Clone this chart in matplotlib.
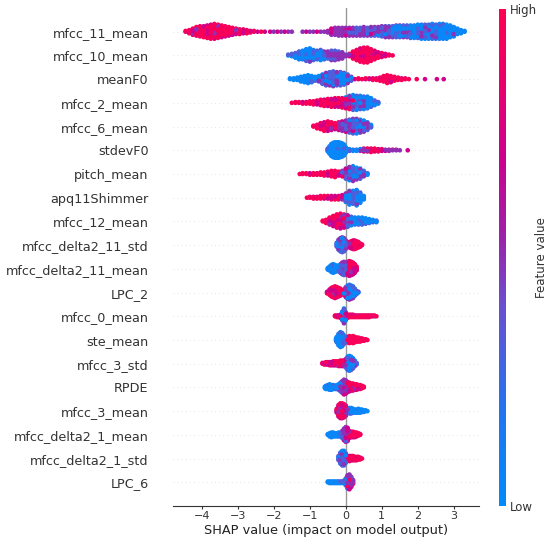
import numpy as np
import matplotlib
matplotlib.use("Agg")
import matplotlib.pyplot as plt
from matplotlib.colors import LinearSegmentedColormap

# feature names, top to bottom
features = ["mfcc_11_mean", "mfcc_10_mean", "meanF0", "mfcc_2_mean", "mfcc_6_mean",
            "stdevF0", "pitch_mean", "apq11Shimmer", "mfcc_12_mean", "mfcc_delta2_11_std",
            "mfcc_delta2_11_mean", "LPC_2", "mfcc_0_mean", "ste_mean", "mfcc_3_std",
            "RPDE", "mfcc_3_mean", "mfcc_delta2_1_mean", "mfcc_delta2_1_std", "LPC_6"]

# feature-value levels (low -> high) used for colouring points
levels = [0.05, 0.32, 0.5, 0.72, 0.95]

# each row: (SHAP value, n_low, n_violet, n_purple, n_magenta, n_high)
mfcc_11_mean = [
    (-4.45, 0, 0, 0, 1, 1), (-4.35, 0, 0, 0, 1, 4), (-4.25, 0, 0, 1, 2, 6), (-4.15, 0, 0, 1, 3, 8),
    (-4.05, 0, 0, 1, 3, 10), (-3.95, 0, 0, 1, 4, 10), (-3.85, 0, 0, 2, 4, 11), (-3.75, 0, 0, 2, 5, 12),
    (-3.65, 0, 0, 2, 5, 13), (-3.55, 0, 0, 2, 4, 12), (-3.45, 0, 0, 1, 4, 11), (-3.35, 0, 0, 1, 4, 9),
    (-3.25, 0, 0, 1, 3, 8), (-3.15, 0, 0, 1, 3, 6), (-3.05, 0, 0, 1, 2, 5), (-2.95, 0, 0, 0, 2, 5),
    (-2.85, 0, 0, 0, 2, 4), (-2.75, 0, 0, 0, 1, 4), (-2.65, 0, 0, 0, 1, 2), (-2.55, 0, 0, 0, 1, 1),
    (-2.45, 0, 0, 0, 1, 0), (-2.35, 0, 0, 0, 0, 1), (-2.25, 0, 0, 0, 1, 0), (-2.1, 0, 0, 0, 1, 0),
    (-2.0, 0, 0, 1, 0, 0), (-1.9, 0, 0, 0, 1, 0), (-1.8, 0, 0, 1, 0, 0), (-1.7, 0, 0, 0, 1, 0),
    (-1.6, 0, 0, 1, 0, 0), (-1.5, 0, 0, 1, 0, 0), (-1.2, 0, 0, 1, 0, 0), (-1.1, 0, 0, 0, 1, 0),
    (-1.0, 0, 0, 1, 0, 0), (-0.9, 0, 0, 1, 0, 0), (-0.8, 0, 0, 0, 1, 0), (-0.7, 0, 0, 1, 0, 0),
    (-0.6, 0, 0, 1, 0, 0), (-0.5, 0, 0, 2, 1, 0), (-0.4, 0, 1, 6, 2, 0), (-0.3, 0, 1, 7, 2, 0),
    (-0.2, 0, 2, 7, 2, 0), (-0.1, 0, 2, 7, 2, 0), (0.0, 0, 2, 7, 2, 0), (0.1, 0, 2, 8, 1, 0),
    (0.2, 0, 2, 8, 1, 0), (0.3, 0, 3, 7, 1, 0), (0.4, 1, 3, 7, 0, 0), (0.5, 1, 3, 7, 1, 0),
    (0.6, 1, 3, 7, 0, 0), (0.7, 1, 4, 6, 1, 0), (0.8, 1, 4, 7, 0, 0), (0.9, 2, 4, 6, 0, 0),
    (1.0, 2, 5, 7, 0, 0), (1.1, 3, 5, 7, 0, 0), (1.2, 3, 5, 7, 0, 0), (1.3, 3, 6, 6, 0, 0),
    (1.4, 4, 6, 6, 0, 0), (1.5, 4, 6, 6, 0, 0), (1.6, 5, 6, 5, 0, 0), (1.7, 5, 6, 5, 0, 0),
    (1.8, 6, 6, 5, 0, 0), (1.9, 7, 6, 4, 0, 0), (2.0, 8, 6, 4, 0, 0), (2.1, 9, 6, 4, 0, 0),
    (2.2, 10, 6, 3, 0, 0), (2.3, 11, 5, 3, 0, 0), (2.4, 12, 5, 3, 0, 0), (2.5, 12, 5, 2, 0, 0),
    (2.6, 13, 5, 2, 0, 0), (2.7, 14, 4, 2, 0, 0), (2.8, 14, 4, 1, 0, 0), (2.9, 12, 3, 1, 0, 0),
    (3.0, 10, 2, 1, 0, 0), (3.1, 7, 1, 0, 0, 0), (3.2, 4, 1, 0, 0, 0), (3.3, 2, 0, 0, 0, 0)]
mfcc_10_mean = [
    (-1.6, 1, 1, 0, 0, 0), (-1.5, 2, 2, 0, 0, 0), (-1.4, 4, 3, 0, 0, 0), (-1.3, 6, 4, 1, 0, 0),
    (-1.2, 7, 4, 1, 0, 0), (-1.1, 9, 5, 2, 0, 0), (-1.0, 10, 6, 2, 0, 0), (-0.9, 7, 5, 2, 0, 0),
    (-0.8, 5, 5, 2, 0, 0), (-0.7, 5, 6, 3, 0, 0), (-0.6, 3, 5, 3, 0, 0), (-0.5, 1, 4, 5, 0, 0),
    (-0.4, 1, 4, 7, 1, 0), (-0.3, 0, 4, 8, 1, 0), (-0.2, 0, 3, 7, 1, 0), (-0.1, 0, 2, 6, 1, 0),
    (0.0, 0, 1, 2, 0, 0), (0.1, 0, 0, 1, 1, 2), (0.2, 0, 0, 1, 2, 7), (0.3, 0, 0, 1, 3, 10),
    (0.4, 0, 0, 1, 3, 14), (0.5, 0, 0, 1, 4, 15), (0.6, 0, 0, 1, 4, 15), (0.7, 0, 0, 1, 3, 12),
    (0.8, 0, 0, 0, 3, 9), (0.9, 0, 0, 0, 2, 6), (1.0, 0, 0, 0, 1, 5), (1.1, 0, 0, 0, 1, 3),
    (1.2, 0, 0, 0, 0, 2), (1.3, 0, 0, 0, 0, 1)]
meanF0 = [
    (-1.55, 2, 0, 0, 0, 0), (-1.45, 3, 0, 0, 0, 0), (-1.35, 4, 0, 0, 0, 0), (-1.25, 6, 1, 0, 0, 0),
    (-1.15, 8, 1, 0, 0, 0), (-1.05, 9, 2, 0, 0, 0), (-0.95, 7, 2, 0, 0, 0), (-0.85, 4, 2, 0, 0, 0),
    (-0.75, 4, 3, 1, 0, 0), (-0.65, 5, 5, 3, 0, 0), (-0.55, 5, 7, 5, 0, 0), (-0.45, 5, 7, 6, 0, 0),
    (-0.35, 5, 8, 7, 0, 0), (-0.25, 4, 7, 7, 0, 0), (-0.15, 4, 7, 7, 0, 0), (-0.05, 4, 6, 6, 0, 0),
    (0.05, 3, 5, 4, 0, 0), (0.15, 2, 2, 2, 0, 0), (0.25, 0, 0, 0, 1, 0), (0.35, 0, 0, 0, 1, 1),
    (0.45, 0, 0, 0, 0, 1), (0.55, 0, 0, 0, 1, 1), (0.65, 0, 0, 0, 1, 1), (0.75, 0, 0, 0, 1, 2),
    (0.85, 0, 0, 0, 1, 2), (0.95, 0, 0, 0, 1, 4), (1.05, 0, 0, 0, 2, 6), (1.15, 0, 0, 0, 2, 9),
    (1.25, 0, 0, 0, 2, 7), (1.35, 0, 0, 0, 1, 5), (1.45, 0, 0, 0, 1, 3), (1.55, 0, 0, 0, 1, 2),
    (1.65, 0, 0, 0, 0, 2), (1.75, 0, 0, 0, 0, 1), (1.97, 0, 0, 0, 0, 1), (2.2, 0, 0, 0, 1, 0),
    (2.53, 0, 0, 0, 1, 0), (2.72, 0, 0, 0, 1, 0)]
mfcc_2_mean = [
    (-1.5, 0, 0, 0, 0, 1), (-1.4, 0, 0, 0, 0, 2), (-1.3, 0, 0, 0, 0, 2), (-1.2, 0, 0, 0, 1, 2),
    (-1.1, 0, 0, 0, 1, 2), (-1.0, 0, 0, 0, 1, 3), (-0.9, 0, 0, 0, 1, 4), (-0.8, 0, 0, 0, 2, 4),
    (-0.7, 0, 0, 0, 2, 6), (-0.6, 0, 0, 0, 3, 6), (-0.5, 0, 0, 0, 3, 7), (-0.4, 0, 0, 1, 3, 7),
    (-0.3, 0, 0, 1, 4, 7), (-0.2, 1, 0, 1, 4, 6), (-0.1, 2, 1, 1, 4, 5), (0.0, 4, 2, 2, 3, 4),
    (0.1, 7, 3, 3, 2, 3), (0.2, 9, 4, 3, 2, 2), (0.3, 10, 4, 3, 1, 1), (0.4, 10, 4, 3, 1, 0),
    (0.5, 10, 4, 3, 0, 0), (0.6, 9, 4, 3, 0, 0), (0.7, 7, 3, 2, 0, 0), (0.8, 4, 2, 1, 0, 0),
    (0.9, 2, 1, 0, 0, 0)]
mfcc_6_mean = [
    (-0.9, 0, 0, 0, 0, 2), (-0.8, 0, 0, 0, 1, 4), (-0.7, 0, 0, 0, 2, 6), (-0.6, 0, 0, 0, 3, 8),
    (-0.5, 0, 0, 1, 3, 8), (-0.4, 0, 0, 1, 3, 6), (-0.3, 0, 0, 1, 2, 5), (-0.2, 0, 0, 2, 3, 5),
    (-0.1, 0, 1, 4, 4, 3), (0.0, 1, 3, 6, 3, 1), (0.1, 3, 4, 7, 2, 0), (0.2, 5, 5, 7, 1, 0),
    (0.3, 6, 5, 6, 1, 0), (0.4, 6, 5, 5, 0, 0), (0.5, 6, 4, 4, 0, 0), (0.6, 5, 3, 2, 0, 0),
    (0.7, 3, 1, 0, 0, 0)]
stdevF0 = [
    (-0.5, 5, 1, 0, 0, 0), (-0.45, 13, 1, 0, 0, 0), (-0.4, 20, 2, 0, 0, 0), (-0.35, 24, 2, 0, 0, 0),
    (-0.3, 26, 2, 0, 0, 0), (-0.25, 26, 2, 0, 0, 0), (-0.2, 26, 2, 0, 0, 0), (-0.15, 24, 2, 0, 0, 0),
    (-0.1, 22, 2, 0, 0, 0), (-0.05, 18, 2, 0, 0, 0), (0.0, 9, 1, 0, 0, 0), (0.1, 3, 1, 0, 0, 0),
    (0.2, 2, 1, 0, 0, 0), (0.3, 2, 1, 0, 0, 0), (0.4, 2, 1, 1, 0, 0), (0.5, 1, 1, 1, 1, 2),
    (0.6, 0, 0, 1, 1, 4), (0.7, 0, 0, 1, 1, 5), (0.8, 0, 0, 1, 2, 3), (0.9, 0, 0, 1, 2, 2),
    (1.0, 0, 0, 1, 1, 2), (1.1, 0, 1, 1, 1, 0), (1.2, 0, 0, 2, 1, 0), (1.3, 0, 0, 1, 1, 0),
    (1.4, 0, 0, 1, 1, 0), (1.5, 0, 0, 1, 0, 0), (1.72, 0, 0, 0, 1, 0)]
pitch_mean = [
    (-1.28, 0, 0, 0, 0, 1), (-1.2, 0, 0, 0, 0, 2), (-1.1, 0, 0, 0, 0, 2), (-1.0, 0, 0, 0, 1, 2),
    (-0.9, 0, 0, 0, 0, 3), (-0.8, 0, 0, 0, 1, 2), (-0.7, 0, 0, 0, 1, 3), (-0.6, 0, 0, 0, 1, 4),
    (-0.5, 0, 0, 0, 2, 4), (-0.4, 0, 0, 0, 2, 6), (-0.3, 0, 0, 1, 2, 6), (-0.2, 0, 0, 1, 2, 3),
    (-0.1, 0, 1, 3, 2, 2), (0.0, 2, 3, 6, 2, 1), (0.1, 5, 4, 6, 2, 1), (0.2, 7, 5, 5, 2, 1),
    (0.3, 6, 4, 4, 1, 1), (0.4, 6, 4, 3, 1, 0), (0.5, 4, 2, 2, 0, 0), (0.6, 2, 1, 0, 0, 0)]
apq11Shimmer = [
    (-1.08, 0, 0, 0, 0, 1), (-1.0, 0, 0, 0, 0, 2), (-0.9, 0, 0, 0, 1, 2), (-0.8, 0, 0, 0, 1, 2),
    (-0.7, 0, 0, 0, 1, 3), (-0.6, 0, 0, 0, 2, 2), (-0.5, 0, 0, 1, 1, 2), (-0.4, 0, 0, 1, 2, 2),
    (-0.3, 0, 0, 1, 2, 2), (-0.2, 0, 0, 1, 2, 2), (-0.1, 0, 1, 2, 2, 1), (0.0, 4, 3, 3, 1, 0),
    (0.1, 10, 4, 3, 0, 0), (0.2, 10, 4, 2, 0, 0), (0.3, 13, 4, 2, 0, 0), (0.4, 9, 3, 1, 0, 0),
    (0.5, 4, 1, 0, 0, 0)]
mfcc_12_mean = [
    (-0.64, 0, 0, 0, 0, 2), (-0.55, 0, 0, 0, 1, 4), (-0.45, 0, 0, 1, 3, 6), (-0.35, 0, 0, 1, 4, 9),
    (-0.25, 0, 0, 2, 5, 11), (-0.15, 0, 0, 3, 6, 11), (-0.05, 0, 1, 5, 6, 6), (0.05, 2, 4, 6, 3, 1),
    (0.15, 4, 4, 3, 1, 0), (0.25, 5, 3, 2, 0, 0), (0.35, 6, 3, 1, 0, 0), (0.45, 6, 3, 1, 0, 0),
    (0.55, 5, 2, 1, 0, 0), (0.65, 4, 2, 0, 0, 0), (0.75, 3, 1, 0, 0, 0), (0.85, 2, 1, 0, 0, 0)]
mfcc_delta2_11_std = [
    (-0.25, 2, 2, 2, 0, 0), (-0.2, 4, 5, 5, 0, 0), (-0.15, 5, 6, 7, 0, 0), (-0.1, 6, 6, 7, 1, 0),
    (-0.05, 5, 6, 6, 1, 0), (0.0, 3, 4, 4, 1, 0), (0.05, 0, 0, 1, 2, 3), (0.1, 0, 0, 1, 2, 5),
    (0.15, 0, 0, 0, 3, 7), (0.2, 0, 0, 0, 3, 9), (0.25, 0, 0, 0, 3, 9), (0.3, 0, 0, 0, 2, 8),
    (0.35, 0, 0, 0, 2, 6), (0.4, 0, 0, 0, 1, 4), (0.45, 0, 0, 0, 0, 2)]
mfcc_delta2_11_mean = [
    (-0.5, 3, 0, 0, 0, 0), (-0.45, 5, 1, 0, 0, 0), (-0.4, 8, 2, 0, 0, 0), (-0.35, 10, 2, 0, 0, 0),
    (-0.3, 8, 2, 0, 0, 0), (-0.25, 6, 2, 0, 0, 0), (-0.2, 5, 3, 0, 0, 0), (-0.15, 3, 5, 4, 0, 0),
    (-0.1, 1, 5, 9, 1, 0), (-0.05, 0, 5, 11, 2, 0), (0.0, 0, 3, 10, 3, 0), (0.05, 0, 1, 4, 7, 6),
    (0.1, 0, 0, 2, 8, 10), (0.15, 0, 0, 1, 7, 10), (0.2, 0, 0, 1, 6, 9), (0.25, 0, 0, 0, 5, 7),
    (0.3, 0, 0, 0, 2, 4)]
LPC_2 = [
    (-0.52, 0, 0, 0, 1, 2), (-0.45, 0, 0, 0, 2, 6), (-0.4, 0, 0, 0, 3, 9), (-0.35, 0, 0, 1, 3, 10),
    (-0.3, 0, 0, 1, 4, 11), (-0.25, 0, 0, 1, 3, 10), (-0.2, 0, 0, 1, 3, 8), (-0.15, 0, 0, 1, 2, 7),
    (-0.1, 0, 0, 1, 2, 3), (-0.05, 1, 1, 3, 2, 1), (0.0, 4, 3, 5, 2, 0), (0.05, 7, 4, 6, 1, 0),
    (0.1, 9, 4, 6, 1, 0), (0.15, 8, 4, 5, 1, 0), (0.2, 8, 4, 4, 0, 0), (0.25, 5, 3, 2, 0, 0),
    (0.3, 3, 1, 1, 0, 0), (0.35, 1, 1, 0, 0, 0)]
mfcc_0_mean = [
    (-0.3, 0, 0, 0, 0, 2), (-0.25, 0, 0, 0, 1, 2), (-0.2, 0, 0, 0, 1, 2), (-0.15, 1, 0, 1, 1, 2),
    (-0.1, 5, 3, 3, 1, 0), (-0.05, 8, 5, 6, 1, 0), (0.0, 4, 2, 3, 1, 1), (0.05, 0, 0, 1, 1, 3),
    (0.1, 0, 0, 0, 1, 3), (0.15, 0, 0, 0, 1, 3), (0.2, 0, 0, 0, 1, 3), (0.25, 0, 0, 0, 1, 2),
    (0.3, 0, 0, 0, 1, 2), (0.35, 0, 0, 0, 0, 3), (0.4, 0, 0, 0, 1, 2), (0.45, 0, 0, 0, 0, 3),
    (0.5, 0, 0, 0, 1, 2), (0.55, 0, 0, 0, 0, 3), (0.6, 0, 0, 0, 1, 2), (0.65, 0, 0, 0, 0, 3),
    (0.7, 0, 0, 0, 1, 1), (0.75, 0, 0, 0, 0, 2), (0.8, 0, 0, 1, 0, 1), (0.85, 0, 0, 0, 0, 1)]
ste_mean = [
    (-0.27, 3, 1, 0, 0, 0), (-0.25, 6, 2, 0, 0, 0), (-0.2, 12, 3, 1, 0, 0), (-0.15, 15, 4, 1, 0, 0),
    (-0.1, 13, 4, 1, 0, 0), (-0.05, 8, 3, 1, 0, 0), (0.0, 3, 2, 1, 0, 0), (0.05, 0, 0, 1, 2, 5),
    (0.1, 0, 0, 1, 2, 7), (0.15, 0, 0, 0, 2, 6), (0.2, 0, 0, 1, 2, 7), (0.25, 0, 0, 0, 2, 6),
    (0.3, 0, 0, 0, 1, 5), (0.35, 0, 0, 0, 1, 5), (0.4, 0, 0, 0, 1, 4), (0.45, 0, 0, 0, 1, 3),
    (0.5, 0, 0, 0, 0, 3), (0.55, 0, 0, 0, 0, 2), (0.6, 0, 0, 0, 0, 1)]
mfcc_3_std = [
    (-0.65, 0, 0, 0, 1, 1), (-0.6, 0, 0, 0, 1, 2), (-0.55, 0, 0, 0, 2, 2), (-0.5, 0, 0, 0, 2, 2),
    (-0.45, 0, 0, 0, 2, 3), (-0.4, 0, 0, 0, 2, 3), (-0.35, 0, 0, 1, 2, 3), (-0.3, 0, 0, 1, 2, 3),
    (-0.25, 0, 0, 1, 2, 3), (-0.2, 0, 0, 1, 3, 3), (-0.15, 0, 0, 1, 3, 4), (-0.1, 0, 0, 2, 3, 3),
    (-0.05, 0, 1, 2, 3, 2), (0.0, 3, 3, 4, 2, 0), (0.05, 8, 5, 4, 1, 0), (0.1, 10, 5, 4, 1, 0),
    (0.15, 9, 5, 3, 1, 0), (0.2, 7, 4, 3, 0, 0), (0.25, 4, 2, 2, 0, 0), (0.3, 2, 1, 0, 0, 0)]
RPDE = [
    (-0.58, 3, 0, 0, 0, 0), (-0.55, 4, 1, 0, 0, 0), (-0.5, 5, 1, 0, 0, 0), (-0.45, 7, 1, 0, 0, 0),
    (-0.4, 6, 1, 0, 0, 0), (-0.35, 5, 1, 0, 0, 0), (-0.3, 4, 1, 0, 0, 0), (-0.25, 4, 2, 0, 0, 0),
    (-0.2, 4, 3, 1, 0, 0), (-0.15, 2, 5, 5, 0, 0), (-0.1, 1, 5, 8, 2, 0), (-0.05, 0, 4, 11, 4, 1),
    (0.0, 0, 3, 9, 5, 1), (0.05, 0, 1, 5, 5, 3), (0.1, 0, 0, 2, 4, 6), (0.15, 0, 0, 1, 3, 6),
    (0.2, 0, 0, 1, 3, 6), (0.25, 0, 0, 0, 3, 5), (0.3, 0, 0, 0, 2, 6), (0.35, 0, 0, 0, 2, 4),
    (0.4, 0, 0, 0, 1, 5), (0.45, 0, 0, 0, 1, 3), (0.5, 0, 0, 0, 0, 2)]
mfcc_3_mean = [
    (-0.25, 0, 0, 1, 2, 3), (-0.2, 0, 0, 3, 6, 7), (-0.15, 0, 1, 4, 7, 8), (-0.1, 0, 1, 4, 7, 8),
    (-0.05, 0, 1, 4, 6, 7), (0.0, 1, 2, 4, 4, 3), (0.05, 3, 2, 1, 0, 0), (0.1, 5, 2, 1, 0, 0),
    (0.15, 5, 2, 1, 0, 0), (0.2, 4, 2, 0, 0, 0), (0.25, 4, 1, 0, 0, 0), (0.3, 4, 1, 0, 0, 0),
    (0.35, 5, 1, 0, 0, 0), (0.4, 4, 1, 0, 0, 0), (0.45, 3, 1, 0, 0, 0), (0.5, 3, 0, 0, 0, 0),
    (0.55, 2, 0, 0, 0, 0), (0.6, 1, 0, 0, 0, 0)]
mfcc_delta2_1_mean = [
    (-0.5, 2, 0, 0, 0, 0), (-0.45, 4, 1, 0, 0, 0), (-0.4, 6, 1, 0, 0, 0), (-0.35, 5, 1, 0, 0, 0),
    (-0.3, 4, 1, 0, 0, 0), (-0.25, 4, 1, 0, 0, 0), (-0.2, 4, 2, 0, 0, 0), (-0.15, 3, 2, 1, 0, 0),
    (-0.1, 1, 4, 4, 1, 0), (-0.05, 0, 4, 8, 4, 0), (0.0, 0, 3, 9, 6, 2), (0.05, 0, 1, 6, 7, 4),
    (0.1, 0, 0, 2, 4, 4), (0.15, 0, 0, 1, 3, 4), (0.2, 0, 0, 0, 3, 5), (0.25, 0, 0, 0, 2, 5),
    (0.3, 0, 0, 0, 2, 4), (0.35, 0, 0, 0, 1, 3), (0.4, 0, 0, 0, 0, 2)]
mfcc_delta2_1_std = [
    (-0.2, 2, 2, 2, 0, 0), (-0.15, 5, 5, 4, 0, 0), (-0.1, 7, 6, 5, 0, 0), (-0.05, 7, 6, 5, 0, 0),
    (0.0, 4, 4, 3, 1, 0), (0.05, 0, 0, 1, 2, 3), (0.1, 0, 0, 1, 2, 4), (0.15, 0, 0, 0, 2, 4),
    (0.2, 0, 0, 0, 2, 4), (0.25, 0, 0, 0, 1, 4), (0.3, 0, 0, 0, 1, 4), (0.35, 0, 0, 0, 1, 3),
    (0.4, 0, 0, 0, 0, 3), (0.45, 0, 0, 0, 0, 1)]
LPC_6 = [
    (-0.5, 2, 0, 0, 0, 0), (-0.45, 3, 0, 0, 0, 0), (-0.4, 3, 0, 0, 0, 0), (-0.35, 3, 0, 0, 0, 0),
    (-0.3, 3, 0, 0, 0, 0), (-0.25, 3, 0, 0, 0, 0), (-0.2, 2, 1, 0, 0, 0), (-0.15, 2, 1, 0, 0, 0),
    (-0.1, 2, 1, 0, 0, 0), (-0.05, 2, 2, 0, 0, 0), (0.0, 2, 4, 4, 0, 0), (0.05, 1, 5, 9, 2, 1),
    (0.1, 0, 4, 10, 4, 2), (0.15, 0, 2, 7, 3, 2), (0.2, 0, 1, 3, 1, 1)]

rows = [mfcc_11_mean, mfcc_10_mean, meanF0, mfcc_2_mean, mfcc_6_mean, stdevF0, pitch_mean,
        apq11Shimmer, mfcc_12_mean, mfcc_delta2_11_std, mfcc_delta2_11_mean, LPC_2, mfcc_0_mean,
        ste_mean, mfcc_3_std, RPDE, mfcc_3_mean, mfcc_delta2_1_mean, mfcc_delta2_1_std, LPC_6]

xticks = [-4, -3, -2, -1, 0, 1, 2, 3]

cmap = LinearSegmentedColormap.from_list(
    "shap_red_blue",
    [(0.0, "#008bfb"), (0.2, "#2574ee"), (0.4, "#6a50d0"), (0.55, "#a020a8"),
     (0.7, "#cc0090"), (0.85, "#ea006c"), (1.0, "#ff0052")])

fig = plt.figure(figsize=(5.5, 5.38), dpi=100)
ax = fig.add_axes([173 / 550, 32 / 538, 306 / 550, 498 / 538])

n_feat = len(features)
row_height = 0.4
for i, (name, row) in enumerate(zip(features, rows)):
    pos = n_feat - 1 - i
    ax.axhline(y=pos, color="#cccccc", lw=0.5, dashes=(1, 5), zorder=-1)
    xs, ys, cs = [], [], []
    for entry in row:
        x = entry[0]
        counts = entry[1:]
        pts = []
        for lv, n in zip(levels, counts):
            for j in range(n):
                pts.append(((j + 0.5) / n, lv))
        pts.sort(key=lambda t: t[0])
        for layer, (_, lv) in enumerate(pts):
            off = np.ceil(layer / 2) * ((layer % 2) * 2 - 1)
            xs.append(x)
            ys.append(off)
            cs.append(lv)
    xs = np.array(xs)
    ys = np.array(ys, dtype=float)
    cs = np.array(cs)
    ys *= 0.9 * (row_height / np.max(ys + 1))
    order = np.argsort((np.arange(len(xs)) * 0.6180339887) % 1.0)
    ax.scatter(xs[order], pos + ys[order], c=cs[order], cmap=cmap, vmin=0, vmax=1,
               s=11, linewidths=0, zorder=3, rasterized=True)

ax.axvline(x=0, color="#999999", lw=1, zorder=-1)
ax.set_ylim(-1, n_feat)
ax.set_xlim(-4.8, 3.7)
ax.set_yticks(range(n_feat))
ax.set_yticklabels(features[::-1], fontsize=9.2, color="#333333")
ax.tick_params(axis="y", length=0, pad=17.5)
ax.set_xticks(xticks)
ax.tick_params(axis="x", labelsize=8, colors="#333333", length=2, width=0.8, pad=1.5)
ax.set_xlabel("SHAP value (impact on model output)", fontsize=9.3, color="#222222", labelpad=2)
for s in ["top", "right", "left"]:
    ax.spines[s].set_visible(False)
ax.spines["bottom"].set_color("#333333")

cax = fig.add_axes([499 / 550, 32 / 538, 7 / 550, 497 / 538])
grad = np.linspace(0, 1, 256).reshape(-1, 1)
cax.imshow(grad, aspect="auto", cmap=cmap, origin="lower", extent=[0, 1, 0, 1])
cax.set_xticks([])
cax.yaxis.tick_right()
cax.set_yticks([0, 1])
cax.set_yticklabels(["Low", "High"], fontsize=8.5, color="#333333")
cax.tick_params(axis="y", length=0, pad=3)
cax.yaxis.set_label_position("right")
cax.set_ylabel("Feature value", fontsize=8.5, color="#333333", labelpad=-2)
for s in cax.spines.values():
    s.set_visible(False)

fig.savefig("out.png", dpi=100)
